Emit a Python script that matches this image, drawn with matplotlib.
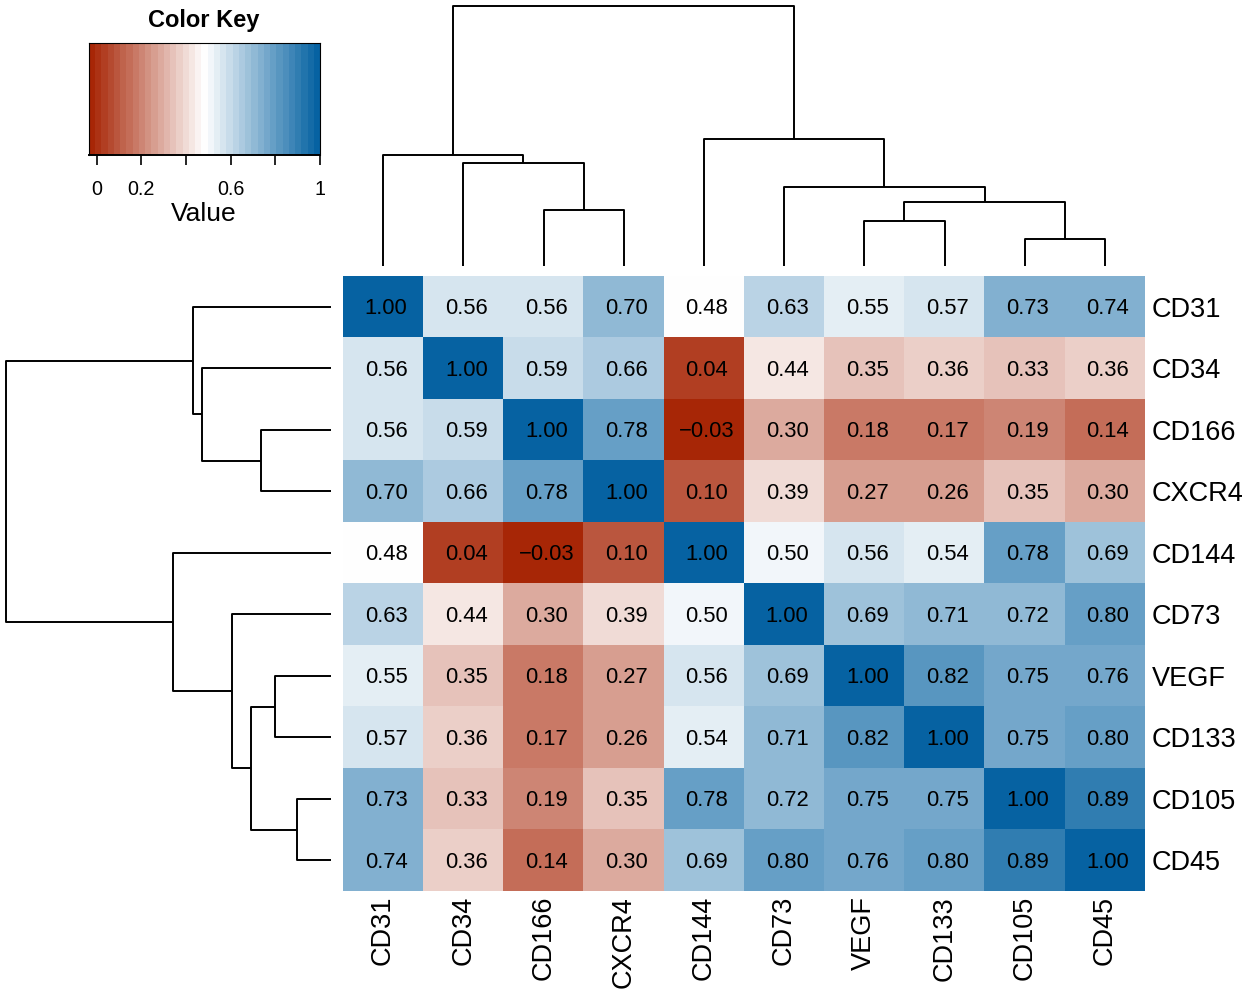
import numpy as np
import matplotlib
matplotlib.use("Agg")
import matplotlib.pyplot as plt
import matplotlib.transforms as mtransforms
from matplotlib.colors import ListedColormap, LinearSegmentedColormap

plt.rcParams['font.family'] = ['Liberation Sans', 'DejaVu Sans']

# ---------------- data ----------------
labels = ["CD31", "CD34", "CD166", "CXCR4", "CD144", "CD73", "VEGF", "CD133", "CD105", "CD45"]

row_CD31 = [1.00, 0.56, 0.56, 0.70, 0.48, 0.63, 0.55, 0.57, 0.73, 0.74]
row_CD34 = [0.56, 1.00, 0.59, 0.66, 0.04, 0.44, 0.35, 0.36, 0.33, 0.36]
row_CD166 = [0.56, 0.59, 1.00, 0.78, -0.03, 0.30, 0.18, 0.17, 0.19, 0.14]
row_CXCR4 = [0.70, 0.66, 0.78, 1.00, 0.10, 0.39, 0.27, 0.26, 0.35, 0.30]
row_CD144 = [0.48, 0.04, -0.03, 0.10, 1.00, 0.50, 0.56, 0.54, 0.78, 0.69]
row_CD73 = [0.63, 0.44, 0.30, 0.39, 0.50, 1.00, 0.69, 0.71, 0.72, 0.80]
row_VEGF = [0.55, 0.35, 0.18, 0.27, 0.56, 0.69, 1.00, 0.82, 0.75, 0.76]
row_CD133 = [0.57, 0.36, 0.17, 0.26, 0.54, 0.71, 0.82, 1.00, 0.75, 0.80]
row_CD105 = [0.73, 0.33, 0.19, 0.35, 0.78, 0.72, 0.75, 0.75, 1.00, 0.89]
row_CD45 = [0.74, 0.36, 0.14, 0.30, 0.69, 0.80, 0.76, 0.80, 0.89, 1.00]

# dendrogram merges (ids < 10 are leaves in display order, ids >= 10 are earlier merges)
merge_left = [2, 1, 0, 6, 8, 13, 5, 4, 12]
merge_right = [3, 10, 11, 7, 9, 14, 15, 16, 17]
merge_height = [0.215, 0.398, 0.426, 0.173, 0.105, 0.246, 0.305, 0.487, 1.0]

key_ticks = [0, 0.2, 0.4, 0.6, 0.8, 1.0]
key_ticklabels = ["0", "0.2", "", "0.6", "", "1"]

# ---------------- setup ----------------
M = np.array([row_CD31, row_CD34, row_CD166, row_CXCR4, row_CD144,
              row_CD73, row_VEGF, row_CD133, row_CD105, row_CD45])
n = len(labels)

W, H = 1247, 990
fig = plt.figure(figsize=(W / 100, H / 100), dpi=100)


def rect(x0, y0, x1, y1):
    return [x0 / W, 1 - y1 / H, (x1 - x0) / W, (y1 - y0) / H]


vmin, vmax = -0.034, 1.0
base = LinearSegmentedColormap.from_list("rwb", ["#A52100", "#FFFFFF", "#005FA0"])
nbins = 37
cmap = ListedColormap([base(v) for v in (np.arange(nbins) + 0.5) / nbins])

# ---------------- heatmap ----------------
ax = fig.add_axes(rect(343, 276, 1145, 891))
ax.imshow(M, cmap=cmap, vmin=vmin, vmax=vmax, extent=(0, n, n, 0),
          aspect="auto", interpolation="nearest")
shift = ax.transData + mtransforms.ScaledTranslation(3 / 100, -2 / 100, fig.dpi_scale_trans)
for i in range(n):
    for j in range(n):
        s = f"{M[i, j]:.2f}".replace("-", "\u2212")
        ax.text(j + 0.5, i + 0.5, s, ha="center", va="center",
                fontsize=15.8, color="black", transform=shift)
ax.set_xlim(0, n)
ax.set_ylim(n, 0)
for sp in ax.spines.values():
    sp.set_visible(False)
ax.set_xticks(np.arange(n) + 0.5)
ax.set_xticklabels(labels, rotation=90, fontsize=19.5, va="top", ha="center")
ax.set_yticks(np.arange(n) + 0.5)
ax.set_yticklabels(labels, fontsize=19.5)
ax.yaxis.tick_right()
ax.tick_params(axis="both", length=0)
ax.tick_params(axis="x", pad=3.5)
ax.tick_params(axis="y", pad=5)


# ---------------- dendrograms ----------------
def dendro_segments():
    pos = {i: (i + 0.5, 0.0) for i in range(n)}
    segs = []
    for k, (a, b, h) in enumerate(zip(merge_left, merge_right, merge_height)):
        xa, ha = pos[a]
        xb, hb = pos[b]
        segs.append(([xa, xa, xb, xb], [ha, h, h, hb]))
        pos[n + k] = ((xa + xb) / 2, h)
    return segs


segs = dendro_segments()

axc = fig.add_axes(rect(343, 6, 1145, 266))
for xs, hs in segs:
    axc.plot(xs, hs, color="black", lw=1.4, clip_on=False, solid_capstyle="butt")
axc.set_xlim(0, n)
axc.set_ylim(0, 1)
axc.axis("off")

axr = fig.add_axes(rect(6, 276, 331, 891))
for xs, hs in segs:
    axr.plot(hs, xs, color="black", lw=1.4, clip_on=False, solid_capstyle="butt")
axr.set_xlim(1, 0)
axr.set_ylim(n, 0)
axr.axis("off")

# ---------------- color key ----------------
axk = fig.add_axes(rect(89, 43, 320, 155))
grad = np.linspace(vmin, vmax, 500)[None, :]
axk.imshow(grad, cmap=cmap, vmin=vmin, vmax=vmax, extent=(vmin, vmax, 0, 1),
           aspect="auto", interpolation="nearest")
axk.set_xlim(vmin, vmax)
axk.set_ylim(0, 1)
axk.set_yticks([])
axk.set_xticks(key_ticks)
axk.set_xticklabels(key_ticklabels, fontsize=14.2)
axk.tick_params(axis="x", length=7.5, width=1.2, pad=10.5)
for sp in axk.spines.values():
    sp.set_linewidth(0.8)
axk.spines["bottom"].set_linewidth(1.4)

fig.text(204 / W, 1 - 21 / H, "Color Key", ha="center", va="center",
         fontsize=17, fontweight="bold")
fig.text(204 / W, 1 - 214 / H, "Value", ha="center", va="center", fontsize=19)

fig.savefig("out.png", dpi=100, facecolor="white")
